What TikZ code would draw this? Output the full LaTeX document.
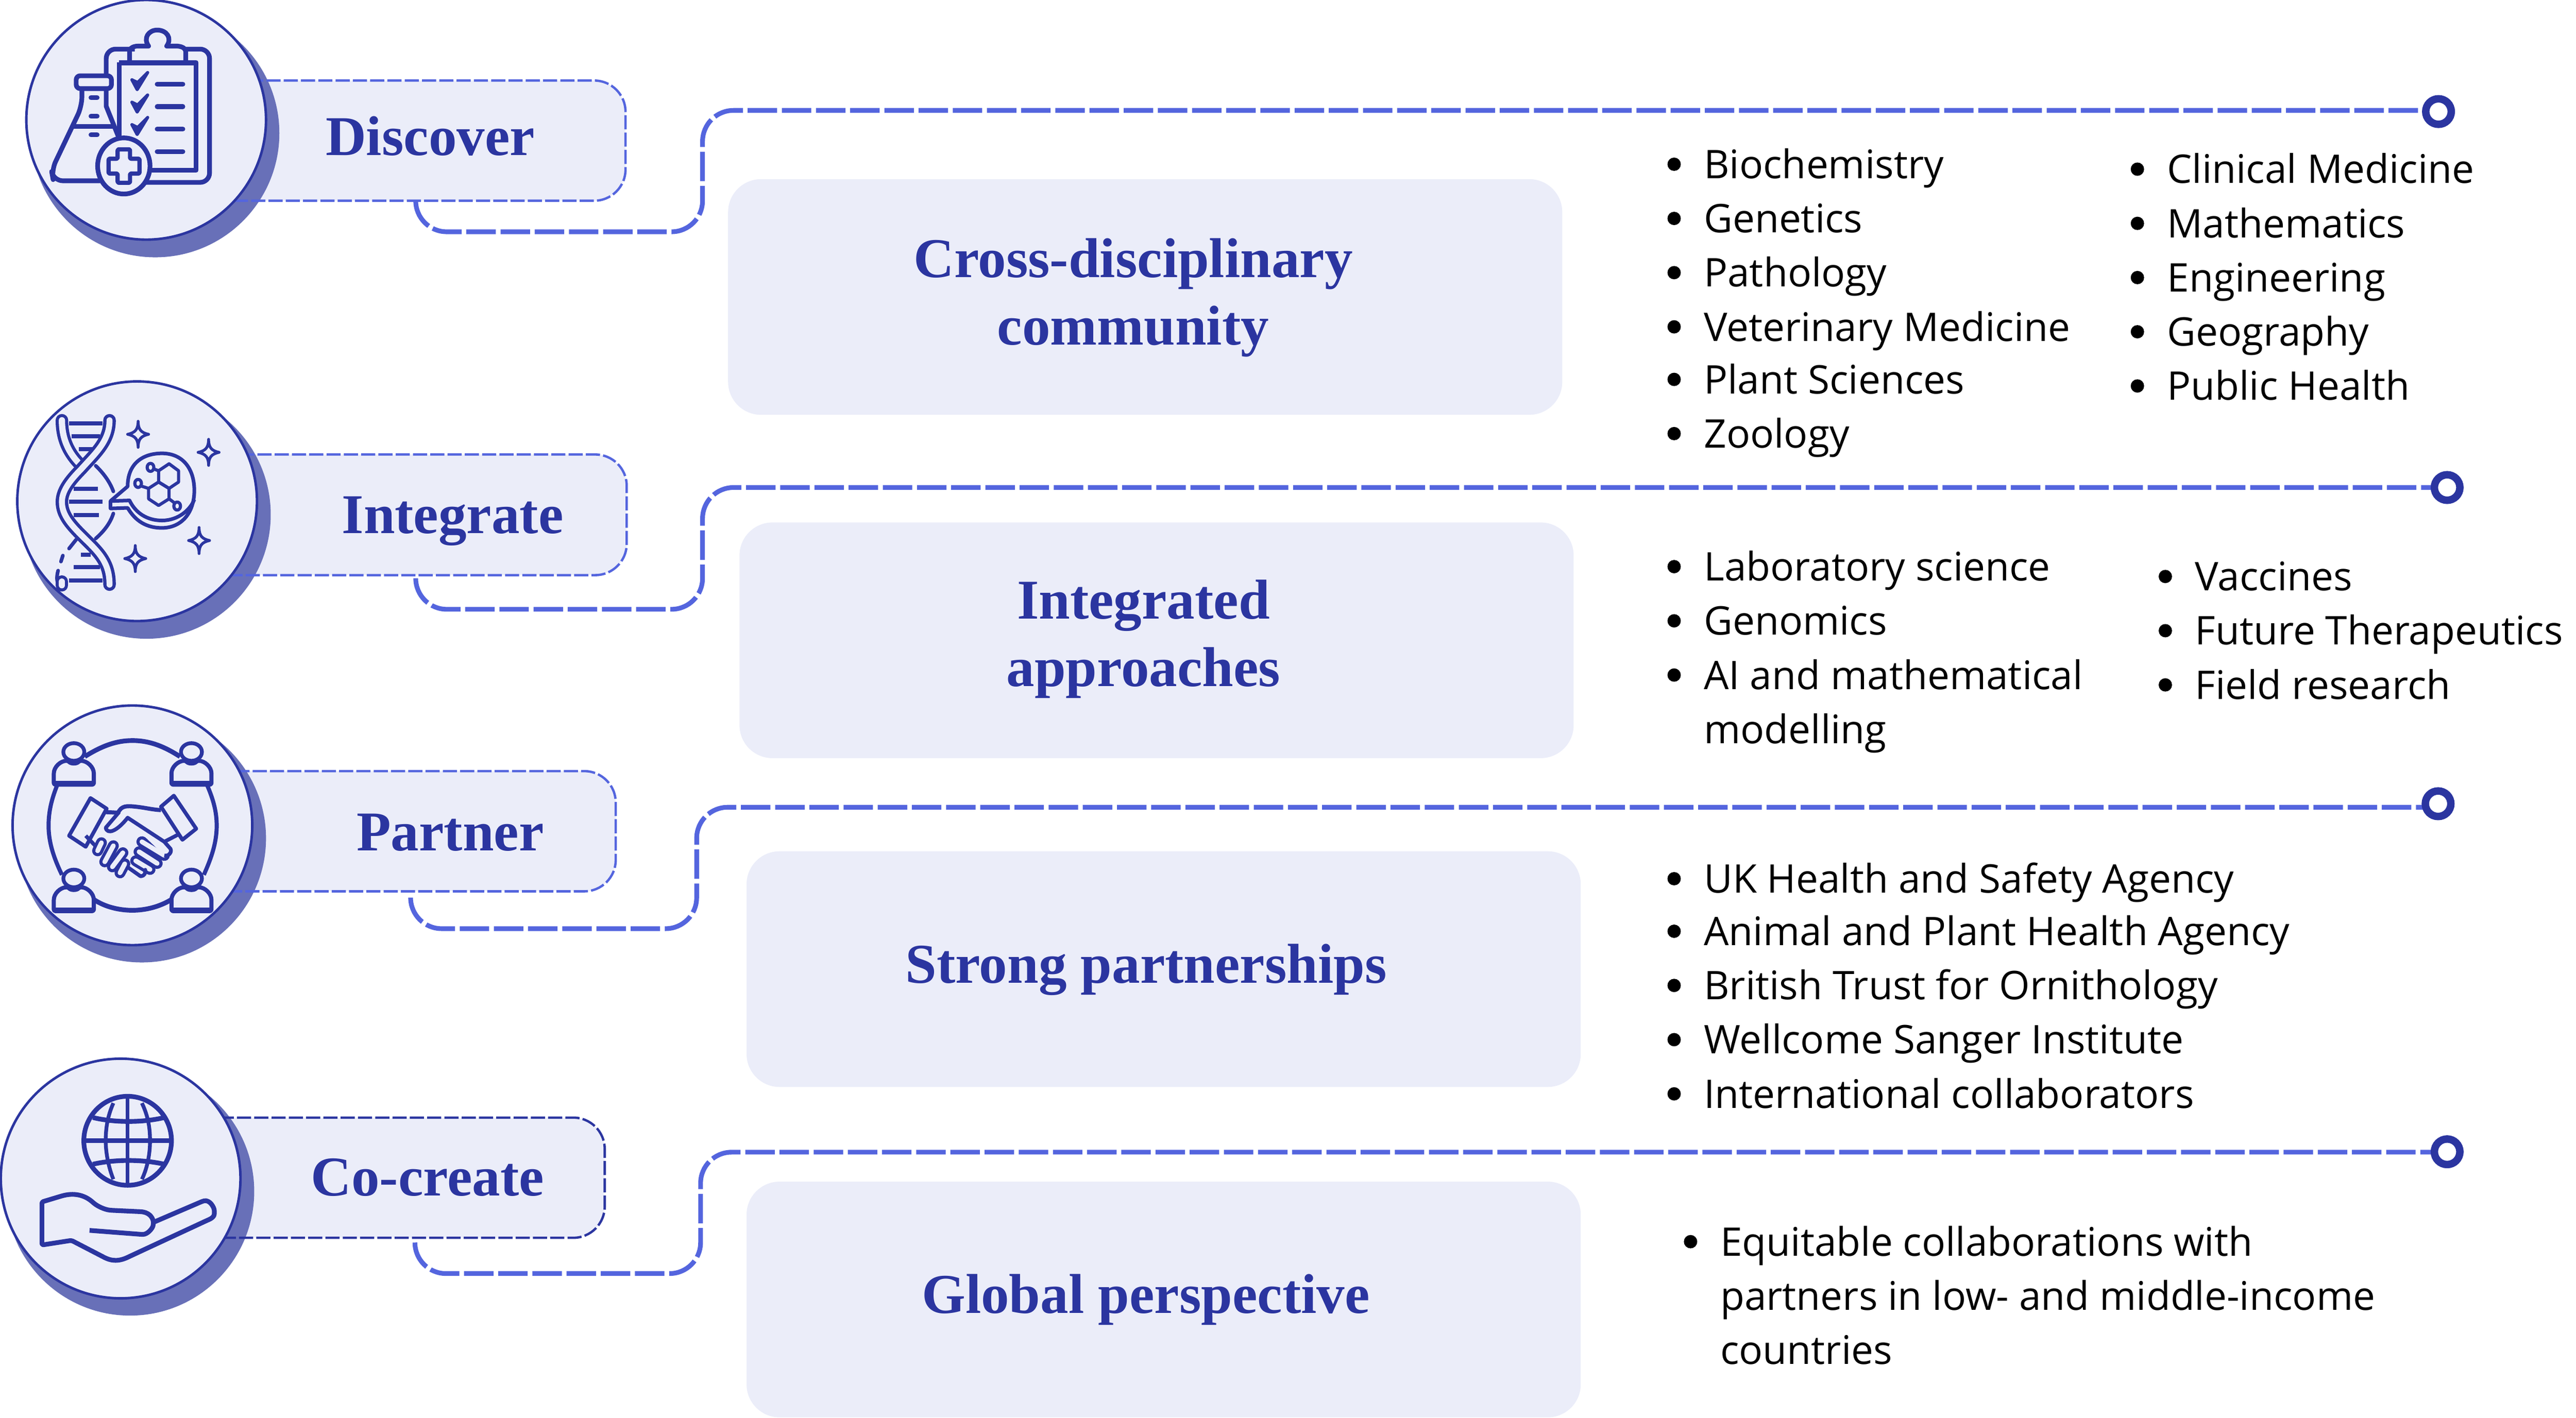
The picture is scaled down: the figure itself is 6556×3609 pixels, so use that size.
\documentclass[tikz,border=0pt]{standalone}
\usepackage{fontspec}
\setmainfont{Open Sans}
\newfontfamily\ttlfont{Liberation Serif}
\definecolor{dk}{HTML}{2B35A0}
\definecolor{ln}{HTML}{5465DE}
\definecolor{pale}{HTML}{EBEDF9}
\definecolor{shd}{HTML}{6870B8}
\tikzset{
 disc/.style={circle,draw=dk,line width=1.6pt,fill=pale,minimum size=152.5pt,inner sep=0pt,outer sep=0pt},
 shadowdisc/.style={circle,fill=shd,minimum size=158pt,inner sep=0pt,outer sep=0pt},
 labelfill/.style={fill=pale,rounded corners=20pt,inner sep=0pt,outer sep=0pt,anchor=north west},
 labelline/.style={draw=ln,line width=1.5pt,dash pattern=on 9pt off 2pt,rounded corners=20pt},
 titletext/.style={text=dk,font=\ttlfont\bfseries\fontsize{35.75pt}{43pt}\selectfont,align=center,inner sep=0pt},
 mainbox/.style={fill=pale,rounded corners=21pt,inner sep=0pt,outer sep=0pt,anchor=north west,minimum width=530.75pt,minimum height=150pt},
 conn/.style={draw=ln,line width=3pt,dash pattern=on 18.75pt off 3pt,rounded corners=19.75pt},
 ring/.style={circle,draw=dk,fill=white,line width=4.75pt,minimum size=16.25pt,inner sep=0pt},
 bodytext/.style={text=black,font=\fontsize{25.1pt}{34.6pt}\selectfont,inner sep=0pt,anchor=base west},
 dotmark/.style={circle,fill=black,minimum size=8.5pt,inner sep=0pt},
 ic/.style={draw=dk,line width=3pt,line join=round},
 icthin/.style={draw=dk,line width=2.3pt,line join=round},
 zoomed/.style={x=0.30303pt,y=-0.12755pt,shift={(0,#1)}},
}
\newcounter{itm}
\newcommand\myitem[3]{\stepcounter{itm}%
 \node[dotmark] (b\arabic{itm}) at (#1*4.181-75,#2*4.181) {};%
 \node[bodytext] (t\arabic{itm}) at (#1*4.181,#2*4.181+36) {#3};}
\newcommand\myline[3]{\stepcounter{itm}%
 \node[bodytext] (t\arabic{itm}) at (#1*4.181,#2*4.181+36) {#3};}
\newcommand\sparkle[2]{\draw[icthin,line width=1.8pt] (#1,#2-65) .. controls (#1,#2-25) and (#1+6,#2-8) .. (#1+22,#2)
 .. controls (#1+6,#2+8) and (#1,#2+25) .. (#1,#2+65)
 .. controls (#1,#2+25) and (#1-6,#2+8) .. (#1-22,#2)
 .. controls (#1-6,#2-8) and (#1,#2-25) .. (#1,#2-65) -- cycle;}
\newcommand\capsule[4]{\draw[draw=dk,line width=7pt,line cap=round] (#1,#2) -- (#3,#4);
 \draw[draw=pale,line width=3pt,line cap=round] (#1,#2) -- (#3,#4);}
\newcommand\person[2]{%
 \draw[ic,line width=2.4pt,fill=pale] (#1,#2) circle [x radius=22, y radius=44];
 \draw[ic,line width=2.6pt,fill=pale,rounded corners=1pt] (#1-42,#2+163) -- (#1-42,#2+115) .. controls (#1-42,#2+75) and (#1-28,#2+44) .. (#1-12,#2+44) .. controls (#1-6,#2+60) and (#1+6,#2+60) .. (#1+12,#2+44) .. controls (#1+28,#2+44) and (#1+42,#2+75) .. (#1+42,#2+115) -- (#1+42,#2+163) -- cycle;
 \draw[draw=dk,line width=3pt] (#1-42,#2+157) -- (#1+42,#2+157);}
\begin{document}
\begin{tikzpicture}[x=0.25pt,y=-0.25pt]
\useasboundingbox (0,0) rectangle (6556,3609);

% ---------- main boxes
\node[mainbox] (m1) at (1853,456) {};
\node[mainbox] (m2) at (1882,1330) {};
\node[mainbox] (m3) at (1900,2167) {};
\node[mainbox] (m4) at (1900,3008) {};
\node[titletext,anchor=base] (mt1) at (2884,878) {Cross-disciplinary\\community};
\node[titletext,anchor=base] (mt2) at (2910,1747) {Integrated\\approaches};
\node[titletext,anchor=base] (mt3) at (2917,2502) {Strong partnerships};
\node[titletext,anchor=base] (mt4) at (2916,3343) {Global perspective};

% ---------- label fills
\node[labelfill,minimum width=250.5pt,minimum height=76.5pt] (l1) at (590,205) {};
\node[labelfill,minimum width=257pt,minimum height=76.75pt] (l2) at (567,1157) {};
\node[labelfill,minimum width=253pt,minimum height=76.5pt] (l3) at (555,1963) {};
\node[labelfill,minimum width=256pt,minimum height=76.5pt] (l4) at (515,2845) {};

% ---------- shadows
\node[shadowdisc] (s1) at (395,339) {};
\node[shadowdisc] (s2) at (373,1310) {};
\node[shadowdisc] (s3) at (361,2134) {};
\node[shadowdisc] (s4) at (331,3033) {};

% ---------- label outlines
\draw[labelline] (l1.north west) -- (l1.north east) -- (l1.south east) -- (l1.south west);
\draw[labelline] (l2.north west) -- (l2.north east) -- (l2.south east) -- (l2.south west);
\draw[labelline] (l3.north west) -- (l3.north east) -- (l3.south east) -- (l3.south west);
\draw[labelline,draw=dk] (l4.north west) -- (l4.north east) -- (l4.south east) -- (l4.south west);

% ---------- connectors
\coordinate (c1a) at (1058,511); \coordinate (c1e) at (6206,281);
\coordinate (c2a) at (1058,1475); \coordinate (c2e) at (6228,1241);
\coordinate (c3a) at (1045,2289); \coordinate (c3e) at (6205,2055);
\coordinate (c4a) at (1056,3167); \coordinate (c4e) at (6228,2933);
\draw[conn] (c1a) -- (1058,590) -- (1788,590) -- (1788,281) -- (c1e);
\draw[conn] (c2a) -- (1058,1551) -- (1788,1551) -- (1788,1241) -- (c2e);
\draw[conn] (c3a) -- (1045,2364) -- (1773,2364) -- (1773,2055) -- (c3e);
\draw[conn] (c4a) -- (1056,3242) -- (1783,3242) -- (1783,2933) -- (c4e);
\node[ring] (r1) at (6206,284) {};
\node[ring] (r2) at (6228,1241) {};
\node[ring] (r3) at (6205,2046) {};
\node[ring] (r4) at (6228,2932) {};

% ---------- discs
\node[disc] (d1) at (372,305) {};
\node[disc] (d2) at (349,1276) {};
\node[disc] (d3) at (337,2101) {};
\node[disc] (d4) at (307,3000) {};

% ---------- label texts
\node[titletext,anchor=base] (n1) at (1095,395) {Discover};
\node[titletext,anchor=base] (n2) at (1152,1358) {Integrate};
\node[titletext,anchor=base] (n3) at (1146,2166) {Partner};
\node[titletext,anchor=base] (n4) at (1088,3044) {Co-create};

% ---------- icon 1
\begin{scope}[zoomed=0]
 \draw[ic,rounded corners=6pt] (223,372) -- (223,245) -- (283,245);
 \draw[ic,rounded corners=6pt] (385,245) -- (440,245) -- (440,910) -- (305,910);
 \draw[ic] (272,305) -- (272,258) .. controls (272,240) and (280,230) .. (290,230) -- (312,230)
   .. controls (300,190) and (312,150) .. (330,150) .. controls (350,150) and (362,190) .. (350,230)
   -- (372,230) .. controls (385,232) and (390,245) .. (390,258) -- (390,305);
 \draw[ic] (250,312) -- (412,312) -- (412,850) -- (318,850);
 \draw[ic] (250,312) -- (250,690);
 \draw[draw=dk,line width=3pt] (250,314) -- (412,314);
 \foreach \y in {0,112,224}{
  \draw[ic,line width=2pt,fill=dk] (277,\y+398) -- (288,\y+447) -- (310,\y+362) -- (289,\y+412) -- cycle;
  \draw[draw=dk,line width=3pt,line cap=round] (330,\y+420) -- (384,\y+420);
 }
 \draw[draw=dk,line width=3pt,line cap=round] (330,756) -- (384,756);
 \draw[ic,rounded corners=2.5pt] (160,378) rectangle (234,442);
 \draw[ic,rounded corners=6pt] (172,445) -- (172,530) -- (108,850) -- (112,902) -- (210,902);
 \draw[ic] (223,445) -- (223,530) -- (250,690);
 \draw[ic] (155,632) -- (243,632);
 \foreach \y in {487,580,673}{\draw[draw=dk,line width=3pt,line cap=round] (191,\y) -- (204,\y);}
 \draw[ic,fill=pale] (260,828) circle [x radius=55, y radius=140];
 \draw[ic,line width=2.7pt,rounded corners=.8pt] (247,745) -- (273,745) -- (273,792) -- (293,792) -- (293,866) -- (273,866) -- (273,912) -- (247,912) -- (247,866) -- (228,866) -- (228,792) -- (247,792) -- cycle;
\end{scope}

% ---------- icon 2
\begin{scope}[zoomed=1862]
 \foreach \y/\a/\b in {250/145/215,315/150/210,378/165/195,577/155/205,640/145/215,708/155/208,905/170/190,968/155/210,1035/145/215}{
  \draw[draw=dk,line width=2.6pt] (\a,\y) -- (\b,\y);}
 \draw[draw=dk,line width=8pt,line cap=round] (130,235) .. controls (130,330) and (145,400) .. (168,455);
 \draw[draw=pale,line width=4pt,line cap=round] (130,235) .. controls (130,330) and (145,400) .. (168,455);
 \draw[draw=dk,line width=2.3pt,line cap=round] (201,462) .. controls (220,505) and (232,550) .. (238,590);
 \draw[draw=dk,line width=2.3pt,line cap=round] (238,700) .. controls (232,745) and (220,785) .. (201,825);
 \draw[draw=dk,line width=2.3pt,line cap=round] (160,830) -- (145,875);
 \draw[draw=dk,line width=2.3pt,line cap=round] (132,910) -- (128,940);
 \draw[draw=dk,line width=2.3pt,line cap=round] (122,985) .. controls (118,1020) and (120,1040) .. (122,1050);
 \draw[draw=dk,line width=8pt,line cap=round] (130,1058) -- (130,1040);
 \draw[draw=pale,line width=4pt,line cap=round] (130,1058) -- (130,1040);
 \draw[draw=dk,line width=8pt,line cap=round] (230,235) .. controls (230,340) and (200,400) .. (170,480) .. controls (145,540) and (130,590) .. (130,642) .. controls (130,710) and (150,760) .. (180,830) .. controls (210,900) and (230,950) .. (230,1055);
 \draw[draw=pale,line width=3.8pt,line cap=round] (230,235) .. controls (230,340) and (200,400) .. (170,480) .. controls (145,540) and (130,590) .. (130,642) .. controls (130,710) and (150,760) .. (180,830) .. controls (210,900) and (230,950) .. (230,1055);
 \sparkle{290}{305}\sparkle{438}{395}\sparkle{418}{835}\sparkle{284}{925}
 \draw[icthin] (268,565) .. controls (268,450) and (300,400) .. (340,400) .. controls (385,400) and (408,480) .. (408,585) .. controls (408,700) and (380,772) .. (340,772) .. controls (300,772) and (280,720) .. (268,672) -- (232,675) -- (232,638) -- cycle;
 \draw[icthin] (232,638) -- (272,635) .. controls (285,700) and (310,735) .. (340,735) .. controls (375,735) and (400,680) .. (408,630);
 \draw[icthin,line width=2pt] (355,452) -- (375,487) -- (375,543) -- (355,575) -- (333,543) -- (333,487) -- cycle;
 \draw[icthin,line width=2pt] (333,543) -- (355,575) -- (355,627) -- (333,660) -- (312,627) -- (312,575) -- cycle;
 \draw[icthin,line width=2pt] (333,487) -- (320,475) (312,575) -- (295,562) (355,627) -- (368,650);
 \draw[icthin,line width=2pt] (316,470) circle [x radius=7, y radius=20];
 \draw[icthin,line width=2pt] (290,550) circle [x radius=7, y radius=20];
 \draw[icthin,line width=2pt] (372,663) circle [x radius=7, y radius=20];
\end{scope}

% ---------- icon 3
\begin{scope}[zoomed=3430]
 \draw[ic] (178,345) .. controls (215,290) and (245,265) .. (278,265) .. controls (315,265) and (345,295) .. (378,345);
 \draw[ic,line width=2.6pt] (120,488) .. controls (108,560) and (102,620) .. (102,690) .. controls (102,780) and (115,860) .. (130,935);
 \draw[ic,line width=2.6pt] (435,488) .. controls (448,560) and (455,620) .. (455,690) .. controls (455,780) and (442,860) .. (428,935);
 \draw[ic] (197,1058) .. controls (220,1095) and (250,1112) .. (278,1112) .. controls (305,1112) and (335,1095) .. (360,1058);
 \person{155}{322}\person{402}{322}\person{155}{953}\person{402}{953}
 \draw[ic,line width=2.4pt] (190,552) -- (224,605) -- (180,795) -- (145,740) -- cycle;
 \draw[ic,line width=2.4pt] (365,540) -- (412,705) -- (383,760) -- (338,595) -- cycle;
 \capsule{213}{775}{205}{815}
 \capsule{238}{790}{220}{870}
 \capsule{258}{825}{236}{895}
 \capsule{262}{880}{252}{925}
 \capsule{298}{770}{345}{838}
 \capsule{292}{820}{330}{878}
 \capsule{285}{865}{315}{908}
 \draw[ic,line width=2.4pt,line cap=round] (270,900) -- (295,942) .. controls (305,940) and (305,925) .. (305,910);
 \draw[ic,fill=pale,line width=2.4pt] (250,622) -- (222,700) .. controls (225,735) and (245,720) .. (268,650) -- (345,770) -- (358,805) .. controls (362,825) and (352,845) .. (345,838);
 \draw[ic,line width=2.4pt] (345,770) -- (375,733);
 \draw[ic,line width=2.6pt] (222,622) -- (248,625) .. controls (255,590) and (265,590) .. (285,595) .. controls (305,600) and (320,610) .. (338,612);
 \draw[ic,line width=2.4pt] (180,740) -- (200,790);
\end{scope}

% ---------- icon 4
\begin{scope}[zoomed=5194]
 \draw[ic] (268,498) circle [x radius=92, y radius=222];
 \draw[ic,line width=2.4pt] (268,280) -- (268,715);
 \draw[ic,line width=2.4pt] (238,310) .. controls (225,380) and (222,440) .. (222,498) .. controls (222,560) and (228,630) .. (238,690);
 \draw[ic,line width=2.4pt] (298,310) .. controls (312,380) and (315,440) .. (315,498) .. controls (315,560) and (310,630) .. (298,690);
 \draw[ic] (178,498) -- (358,498);
 \draw[ic] (195,382) .. controls (240,408) and (300,408) .. (345,382);
 \draw[ic] (195,615) .. controls (240,590) and (300,590) .. (345,615);
 \draw[ic,rounded corners=1pt] (322,905) -- (425,800) .. controls (440,790) and (450,830) .. (450,855) .. controls (450,875) and (445,885) .. (435,895)
   -- (272,1075) .. controls (250,1100) and (235,1100) .. (215,1075) -- (150,995) -- (88,1018) -- (88,803) -- (130,773)
   .. controls (160,755) and (180,775) .. (195,805) .. controls (205,825) and (220,842) .. (235,845) -- (298,852)
   .. controls (315,860) and (322,885) .. (322,915) .. controls (320,935) and (310,965) .. (297,965) -- (188,945);
\end{scope}

% ---------- text lists (displayed coordinates)
\myitem{1037}{100}{Biochemistry}
\myitem{1037}{133}{Genetics}
\myitem{1037}{166}{Pathology}
\myitem{1037}{199}{Veterinary Medicine}
\myitem{1037}{231}{Plant Sciences}
\myitem{1037}{264}{Zoology}
\myitem{1319}{103}{Clinical Medicine}
\myitem{1319}{136}{Mathematics}
\myitem{1319}{169}{Engineering}
\myitem{1319}{202}{Geography}
\myitem{1319}{235}{Public Health}
\myitem{1037}{345}{Laboratory science}
\myitem{1037}{378}{Genomics}
\myitem{1037}{411}{AI and mathematical}
\myline{1037}{444}{modelling}
\myitem{1336}{351}{Vaccines}
\myitem{1336}{384}{Future Therapeutics}
\myitem{1336}{417}{Field research}
\myitem{1037}{535}{UK Health and Safety Agency}
\myitem{1037}{567}{Animal and Plant Health Agency}
\myitem{1037}{600}{British Trust for Ornithology}
\myitem{1037}{633}{Wellcome Sanger Institute}
\myitem{1037}{666}{International collaborators}
\myitem{1047}{756}{Equitable collaborations with}
\myline{1047}{789}{partners in low- and middle-income}
\myline{1047}{822}{countries}
\end{tikzpicture}
\end{document}
